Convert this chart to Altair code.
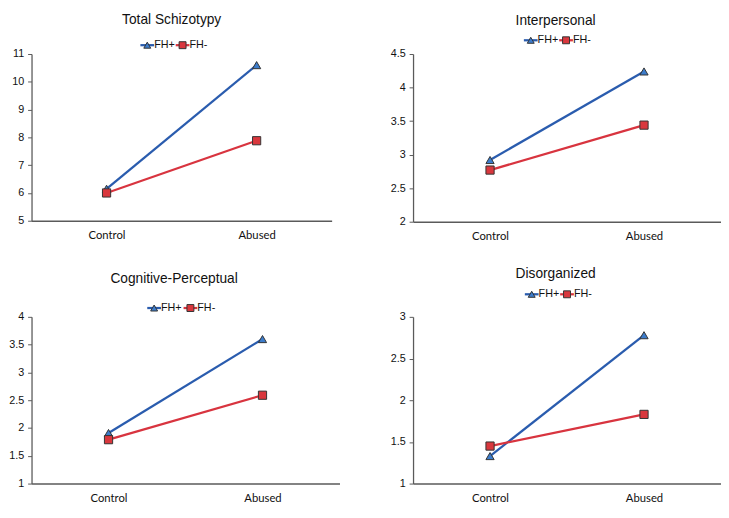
import altair as alt
import pandas as pd

groups = ["Control", "Abused"]
series = ["FH+", "FH-"]

titles = ["Total Schizotypy", "Interpersonal", "Cognitive-Perceptual", "Disorganized"]
fh_pos = [[6.15, 10.6], [2.92, 4.24], [1.91, 3.60], [1.33, 2.78]]
fh_neg = [[6.00, 7.88], [2.77, 3.44], [1.79, 2.59], [1.45, 1.83]]
y_domains = [[5, 11], [2, 4.5], [1, 4], [1, 3]]
y_ticks = [[5, 6, 7, 8, 9, 10, 11], [2, 2.5, 3, 3.5, 4, 4.5],
           [1, 1.5, 2, 2.5, 3, 3.5, 4], [1, 1.5, 2, 2.5, 3]]

line_colors = ["#2A5CAE", "#D8343F"]
fill_colors = ["#3C7CCB", "#D9373D"]
shapes = ["triangle-up", "square"]
FONT = "Liberation Sans"

# layout settings per panel
widths = [306, 314, 314, 314]
heights = [170, 171, 170, 170]
title_offsets = [13, 7, 17, 8]
legend_range = [[118, 154], [120, 156], [125, 162], [121, 157]]
legend_y = [-9, -14, -9, -23]


def panel(i):
    rows = []
    for g, v in zip(groups, fh_pos[i]):
        rows.append({"group": g, "series": "FH+", "value": v})
    for g, v in zip(groups, fh_neg[i]):
        rows.append({"group": g, "series": "FH-", "value": v})
    df = pd.DataFrame(rows)
    ldf = pd.DataFrame({"series": series})

    color_scale = alt.Scale(domain=series, range=line_colors)
    fill_scale = alt.Scale(domain=series, range=fill_colors)
    shape_scale = alt.Scale(domain=series, range=shapes)

    x = alt.X("group:N", sort=groups, scale=alt.Scale(type="point", padding=0.5),
              axis=alt.Axis(title=None, labelAngle=0, ticks=False, domainColor="#5A5A5A",
                            domainWidth=1.6, labelFont="Lato", labelFontSize=11.5,
                            labelColor="#111", labelPadding=9))
    y = alt.Y("value:Q", scale=alt.Scale(domain=y_domains[i], nice=False, zero=False),
              axis=alt.Axis(title=None, values=y_ticks[i], format="~g", grid=False,
                            domainColor="#5A5A5A", domainWidth=1.3, tickColor="#5A5A5A",
                            tickSize=4, labelFont=FONT, labelFontSize=11, labelColor="#111",
                            labelPadding=4))

    lines = alt.Chart(df).mark_line(strokeWidth=2.3).encode(
        x=x, y=y,
        color=alt.Color("series:N", scale=color_scale, legend=None),
        detail="series:N",
    )
    points = alt.Chart(df).mark_point(filled=True, size=70, stroke="#333",
                                      strokeWidth=1, opacity=1).encode(
        x=x, y=y,
        fill=alt.Fill("series:N", scale=fill_scale, legend=None),
        shape=alt.Shape("series:N", scale=shape_scale, legend=None),
    )

    # per-panel legend drawn from the series list through its own point scale
    lx = alt.X("series:N", sort=series,
               scale=alt.Scale(type="point", domain=series, range=legend_range[i], padding=0),
               axis=None)
    ly = alt.value(legend_y[i])
    leg_line = alt.Chart(ldf).mark_point(shape="M-1,0L1,0", size=196, strokeWidth=2.3,
                                         filled=False, opacity=1).encode(
        x=lx, y=ly, color=alt.Color("series:N", scale=color_scale, legend=None))
    leg_pts = alt.Chart(ldf).mark_point(filled=True, size=50, stroke="#333",
                                        strokeWidth=1, opacity=1).encode(
        x=lx, y=ly,
        fill=alt.Fill("series:N", scale=fill_scale, legend=None),
        shape=alt.Shape("series:N", scale=shape_scale, legend=None))
    leg_txt = alt.Chart(ldf).mark_text(align="left", baseline="middle", dx=7, font=FONT,
                                       fontSize=11, color="#111").encode(
        x=lx, y=ly, text="series:N")

    return alt.layer(alt.layer(lines, points),
                     alt.layer(leg_line, leg_pts, leg_txt)).resolve_scale(
        x="independent"
    ).properties(
        width=widths[i], height=heights[i],
        title=alt.TitleParams(titles[i], font=FONT, fontSize=14, fontWeight="normal",
                              anchor="middle", frame="bounds", offset=title_offsets[i],
                              color="#111"),
    )


p = [panel(i) for i in range(4)]
chart = alt.concat(*p, columns=2, spacing={"row": 25, "column": 51}).resolve_scale(
    x="independent", y="independent"
).properties(padding=0).configure_view(stroke=None)

chart.save("out.html", embed_options={"renderer": "svg", "actions": False})
